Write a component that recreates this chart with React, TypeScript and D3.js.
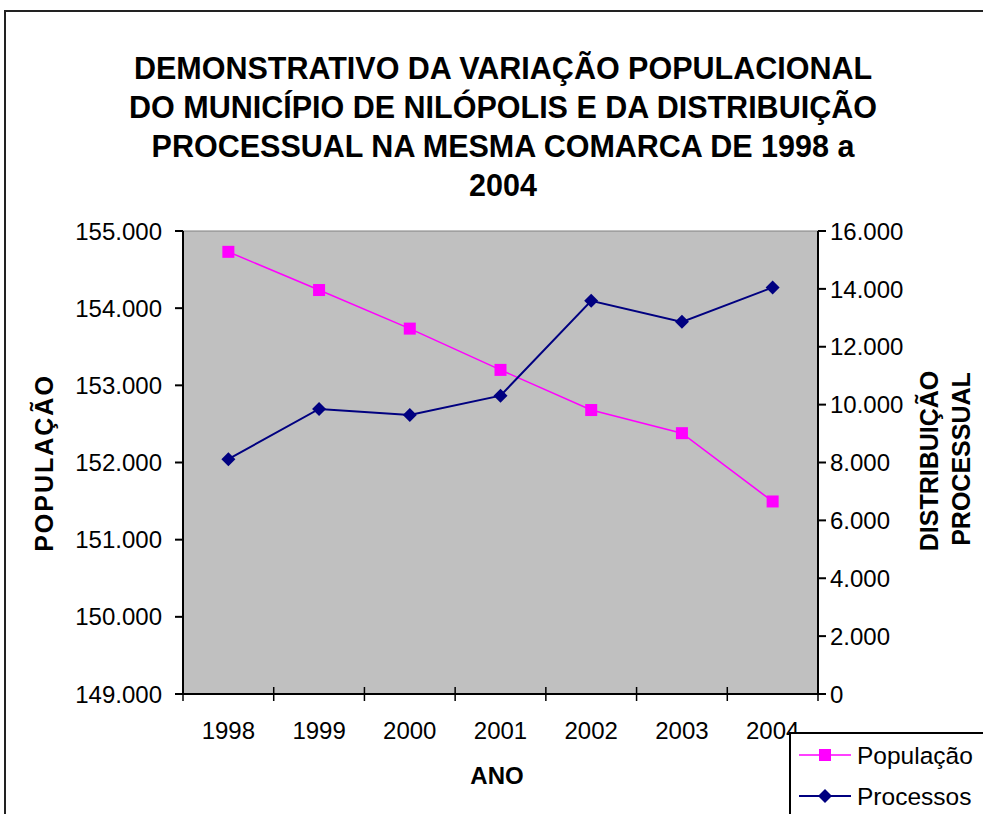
import * as React from "react";
import * as d3 from "d3";

const years = ["1998", "1999", "2000", "2001", "2002", "2003", "2004"];
const populacao = [154730, 154235, 153735, 153200, 152680, 152380, 151495];
const processos = [8115, 9850, 9645, 10310, 13590, 12860, 14050];
const leftTicks = [149000, 150000, 151000, 152000, 153000, 154000, 155000];
const rightTicks = [0, 2000, 4000, 6000, 8000, 10000, 12000, 14000, 16000];
const titleLines = [
  "DEMONSTRATIVO DA VARIAÇÃO POPULACIONAL",
  "DO MUNICÍPIO DE NILÓPOLIS E DA DISTRIBUIÇÃO",
  "PROCESSUAL NA MESMA COMARCA DE 1998 a",
  "2004",
];

const W = 983;
const H = 814;
const PLOT = { left: 183, right: 818, top: 231, bottom: 694 };
const FONT = "Arial, 'Liberation Sans', sans-serif";
const PINK = "#FF00FF";
const NAVY = "#000080";

const fmt = (v: number) =>
  v === 0 ? "0" : d3.format(",")(v).replace(/,/g, ".");

export default function App() {
  const x = d3.scaleBand<string>().domain(years).range([PLOT.left, PLOT.right]);
  const yL = d3.scaleLinear().domain([149000, 155000]).range([PLOT.bottom, PLOT.top]);
  const yR = d3.scaleLinear().domain([0, 16000]).range([PLOT.bottom, PLOT.top]);
  const cx = (y: string) => (x(y) ?? 0) + x.bandwidth() / 2;

  const popLine = d3
    .line<number>()
    .x((_, i) => cx(years[i]))
    .y((d) => yL(d))(populacao);
  const procLine = d3
    .line<number>()
    .x((_, i) => cx(years[i]))
    .y((d) => yR(d))(processos);

  const diamond = (px: number, py: number, r: number) =>
    `M${px},${py - r}L${px + r},${py}L${px},${py + r}L${px - r},${py}Z`;

  const xTickPos = [...years.map((y) => x(y) ?? 0), PLOT.right];

  return (
    <svg
      width={W}
      height={H}
      style={{ position: "absolute", left: 0, top: 0, background: "#fff" }}
      fontFamily={FONT}
    >
      {/* outer chart border */}
      <rect x={5} y={11} width={W + 10} height={H + 10} fill="none" stroke="#222" strokeWidth={2} />

      {titleLines.map((t, i) => (
        <text
          key={t}
          x={503}
          y={79 + i * 39}
          textAnchor="middle"
          fontSize={30.5}
          fontWeight="bold"
        >
          {t}
        </text>
      ))}

      {/* plot area */}
      <rect
        x={PLOT.left}
        y={PLOT.top}
        width={PLOT.right - PLOT.left}
        height={PLOT.bottom - PLOT.top}
        fill="#C0C0C0"
        stroke="#808080"
        strokeWidth={1}
      />

      {/* left axis */}
      <line x1={PLOT.left} x2={PLOT.left} y1={PLOT.top} y2={PLOT.bottom} stroke="#000" strokeWidth={2} />
      {leftTicks.map((t) => (
        <g key={t}>
          <line x1={PLOT.left - 8} x2={PLOT.left} y1={yL(t)} y2={yL(t)} stroke="#000" strokeWidth={2} />
          <text x={162} y={yL(t)} dy="0.36em" textAnchor="end" fontSize={24}>
            {fmt(t)}
          </text>
        </g>
      ))}

      {/* right axis */}
      <line x1={PLOT.right} x2={PLOT.right} y1={PLOT.top} y2={PLOT.bottom} stroke="#000" strokeWidth={2} />
      {rightTicks.map((t) => (
        <g key={t}>
          <line x1={PLOT.right} x2={PLOT.right + 8} y1={yR(t)} y2={yR(t)} stroke="#000" strokeWidth={2} />
          <text x={PLOT.right + 12} y={yR(t)} dy="0.36em" textAnchor="start" fontSize={24}>
            {fmt(t)}
          </text>
        </g>
      ))}

      {/* bottom axis */}
      <line x1={PLOT.left - 8} x2={PLOT.right} y1={PLOT.bottom} y2={PLOT.bottom} stroke="#000" strokeWidth={2} />
      {xTickPos.map((p, i) => (
        <line key={i} x1={p} x2={p} y1={PLOT.bottom - 7} y2={PLOT.bottom + 7} stroke="#000" strokeWidth={1.5} />
      ))}
      {years.map((y) => (
        <text key={y} x={cx(y)} y={739} textAnchor="middle" fontSize={24}>
          {y}
        </text>
      ))}

      {/* axis titles */}
      <text x={497} y={784} textAnchor="middle" fontSize={24} fontWeight="bold">
        ANO
      </text>
      <text
        transform="translate(53,463) rotate(-90)"
        textAnchor="middle"
        fontSize={25}
        fontWeight="bold"
        letterSpacing={2}
      >
        POPULAÇÃO
      </text>
      <text
        transform="translate(938,461) rotate(-90)"
        textAnchor="middle"
        fontSize={25}
        fontWeight="bold"
      >
        DISTRIBUIÇÃO
      </text>
      <text
        transform="translate(970,459) rotate(-90)"
        textAnchor="middle"
        fontSize={25}
        fontWeight="bold"
      >
        PROCESSUAL
      </text>

      {/* series */}
      <path d={popLine ?? ""} fill="none" stroke={PINK} strokeWidth={1.5} />
      {populacao.map((d, i) => (
        <rect key={i} x={cx(years[i]) - 6} y={yL(d) - 6} width={12} height={12} fill={PINK} />
      ))}
      <path d={procLine ?? ""} fill="none" stroke={NAVY} strokeWidth={2} />
      {processos.map((d, i) => (
        <path key={i} d={diamond(cx(years[i]), yR(d), 7)} fill={NAVY} />
      ))}

      {/* legend */}
      <rect x={790} y={733} width={220} height={120} fill="#fff" stroke="#000" strokeWidth={2} />
      <line x1={799} x2={851} y1={755} y2={755} stroke={PINK} strokeWidth={1.5} />
      <rect x={819} y={749} width={12} height={12} fill={PINK} />
      <text x={857} y={755} dy="0.36em" fontSize={24.5}>
        População
      </text>
      <line x1={799} x2={851} y1={796} y2={796} stroke={NAVY} strokeWidth={2} />
      <path d={diamond(825, 796, 7)} fill={NAVY} />
      <text x={857} y={796} dy="0.36em" fontSize={24.5}>
        Processos
      </text>
    </svg>
  );
}
